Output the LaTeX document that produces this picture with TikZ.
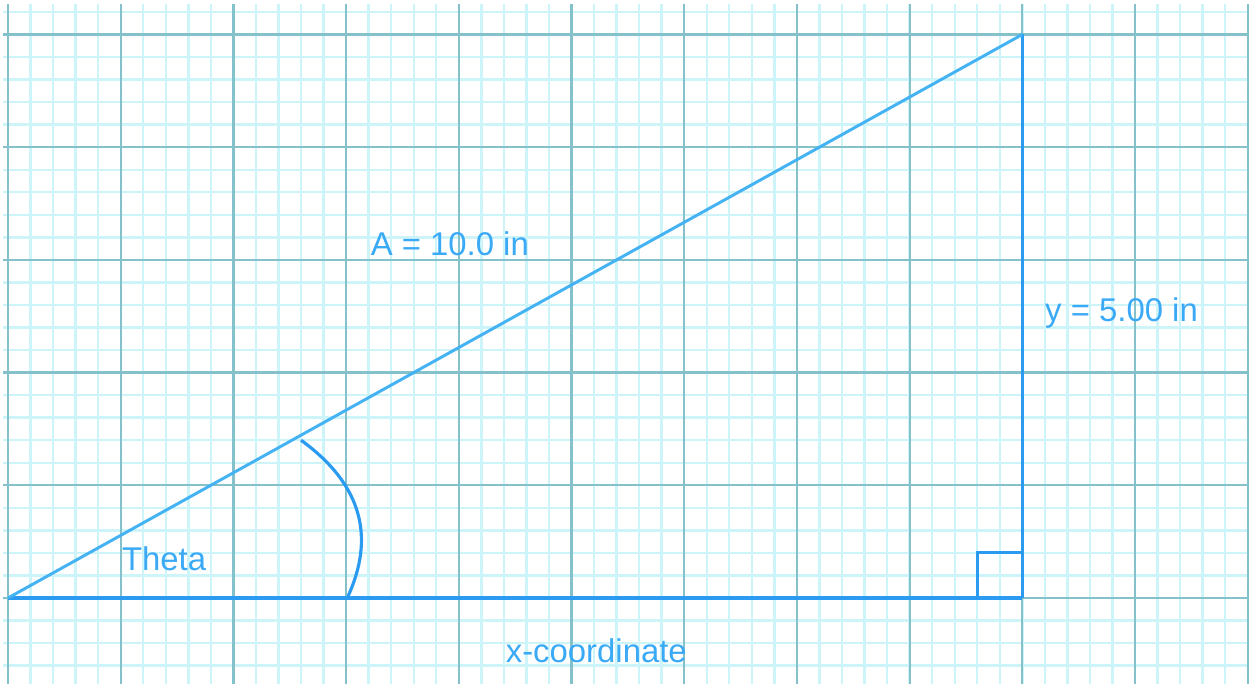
\documentclass[tikz,border=0pt]{standalone}
\usepackage{fontspec}
\setmainfont{Liberation Sans}
\usepackage{tikz}
\usetikzlibrary{positioning}
\definecolor{GridMinor}{HTML}{CDF4F8}
\definecolor{GridMajor}{HTML}{84C1CB}
\definecolor{SideBlue}{HTML}{2A9BF0}
\definecolor{HypBlue}{HTML}{45B3F3}
\definecolor{LabelBlue}{HTML}{3AA9F6}

\begin{document}
\begin{tikzpicture}[
      font=\fontsize{8.3}{10}\selectfont,
      minorgrid/.style={draw=GridMinor,line width=0.6pt},
      majorgrid/.style={draw=GridMajor,line width=0.55pt},
      side/.style={draw=SideBlue,line width=0.8pt},
      hyp/.style={draw=HypBlue,line width=0.75pt},
      lbl/.style={text=LabelBlue,inner sep=1pt}
    ]
      \useasboundingbox (-0.071,-0.763) rectangle (11.011,5.306);
      % graph paper
      \draw[minorgrid] (-0.04,-0.763) grid[step=0.2] (11,5.27);
      \draw[majorgrid] (-0.04,-0.763) grid[step=1] (11,5.27);
      % triangle corners
      \coordinate (o) at (0,0);
      \coordinate (b) at (9,0);
      \coordinate (c) at (9,5);
      \coordinate (t1) at (3.01,0);
      \coordinate (t2) at (2.6,1.40);
      \coordinate (r1) at (8.6,0);
      \coordinate (r2) at (8.6,0.4);
      \coordinate (r3) at (9,0.4);
      \node[lbl] (hyplabel) at (3.92,3.14) {A = 10.0 in};
      \node[lbl] (ylabel) at (9.88,2.53) {y = 5.00 in};
      \node[lbl] (xlabel) at (5.22,-0.47) {x-coordinate};
      \node[lbl] (theta) at (1.385,0.35) {Theta};
      \draw[side] (o) -- (b);
      \draw[side] (b) -- (c);
      \draw[hyp] (o) -- (c);
      \draw[side] (r1) -- (r2) -- (r3);
      \draw[side] (t1) .. controls (3.22,0.45) and (3.22,0.95) .. (t2);
    \end{tikzpicture}
\end{document}
